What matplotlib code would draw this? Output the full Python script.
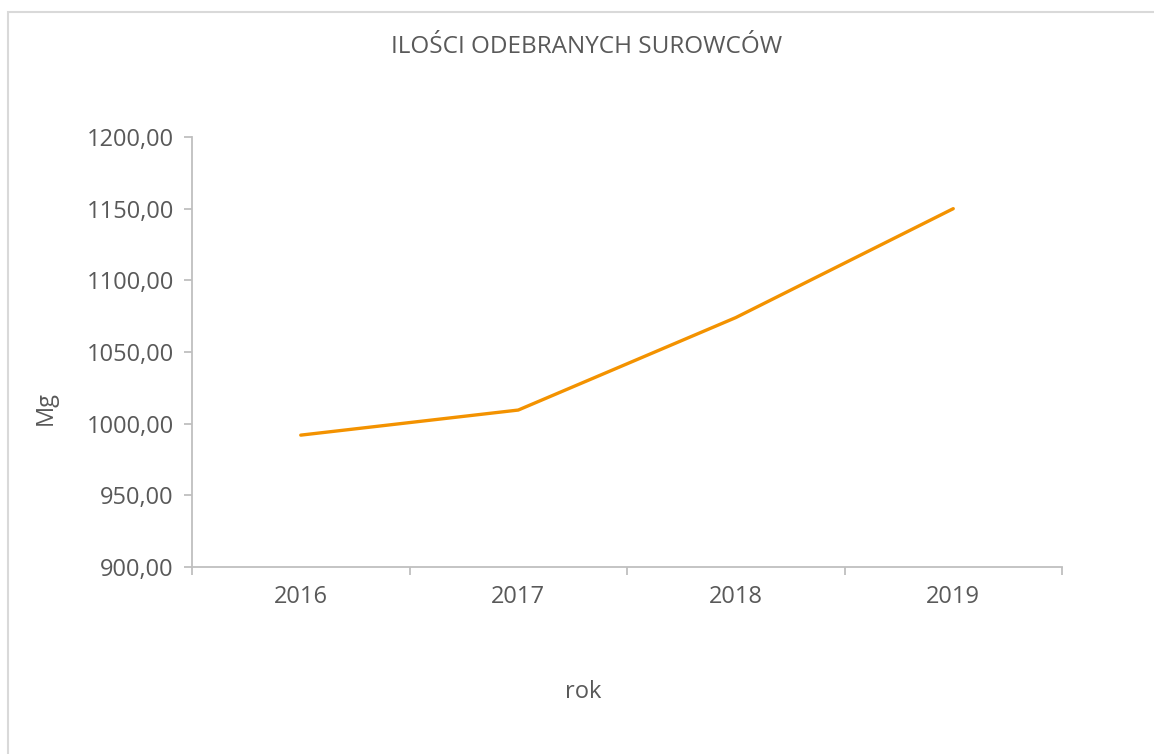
import matplotlib
matplotlib.use("Agg")
import matplotlib.pyplot as plt
from matplotlib.patches import Rectangle
from matplotlib.ticker import FuncFormatter, FixedLocator

years = ["2016", "2017", "2018", "2019"]
mg = [992.0, 1009.5, 1074.0, 1150.0]

plt.rcParams['font.family'] = ['Open Sans', 'DejaVu Sans']
txt = '#595959'
axcol = '#BFBFBF'

fig = plt.figure(figsize=(11.54, 7.54), dpi=100)
ax = fig.add_axes([192/1154, 1 - 567/754, (1062 - 192)/1154, (567 - 137)/754])

# outer frame of the chart area (runs off the right/bottom edge like in the source)
fig.patches.append(Rectangle((8/1154, -0.05), 1.2, 1 - 12/754 + 0.05,
                             transform=fig.transFigure, fill=False,
                             edgecolor='#D9D9D9', linewidth=1.5))

x = list(range(len(years)))
ax.plot(x, mg, color='#F39200', linewidth=2.4, solid_capstyle='round')

ax.set_xlim(-0.5, len(years) - 0.5)
ax.set_ylim(900, 1200)
ax.set_yticks([900, 950, 1000, 1050, 1100, 1150, 1200])
ax.yaxis.set_major_formatter(FuncFormatter(lambda v, p: f"{v:.2f}".replace('.', ',')))
ax.set_xticks(x)
ax.set_xticklabels(years)
ax.xaxis.set_minor_locator(FixedLocator([i - 0.5 for i in range(len(years) + 1)]))

for s in ['top', 'right']:
    ax.spines[s].set_visible(False)
for s in ['left', 'bottom']:
    ax.spines[s].set_color(axcol)
    ax.spines[s].set_linewidth(1.3)

ax.tick_params(axis='y', length=6, width=1.3, color=axcol, labelsize=17, labelcolor=txt, pad=7)
ax.tick_params(axis='x', which='major', length=0, labelsize=17, labelcolor=txt, pad=13)
ax.tick_params(axis='x', which='minor', length=6, width=1.3, color=axcol)

fig.text(587/1154, 1 - 47/754, "ILOŚCI ODEBRANYCH SUROWCÓW", ha='center', va='center',
         fontsize=17.5, color=txt)
fig.text(46/1154, 1 - 408/754, "Mg", ha='center', va='center', rotation=90,
         fontsize=17, color=txt)
fig.text(583/1154, 1 - 692/754, "rok", ha='center', va='center', fontsize=17, color=txt)

fig.savefig("out.png", dpi=100)
